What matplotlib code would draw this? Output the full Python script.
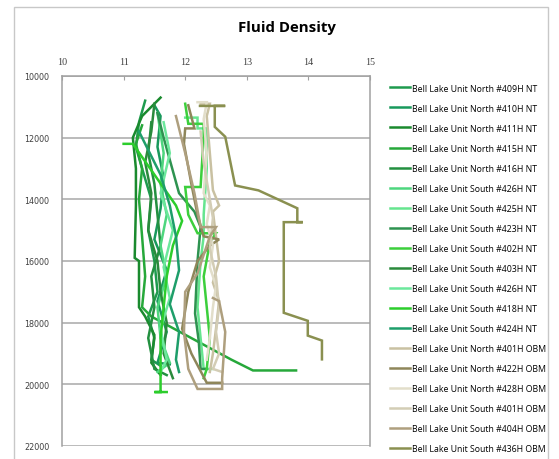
import matplotlib
matplotlib.use("Agg")
import matplotlib.pyplot as plt
from matplotlib.patches import Rectangle

# well names, colours and (density, depth) points
wells = [
    "Bell Lake Unit North #409H NT",
    "Bell Lake Unit North #410H NT",
    "Bell Lake Unit North #411H NT",
    "Bell Lake Unit North #415H NT",
    "Bell Lake Unit North #416H NT",
    "Bell Lake Unit South #426H NT",
    "Bell Lake Unit South #425H NT",
    "Bell Lake Unit South #423H NT",
    "Bell Lake Unit South #402H NT",
    "Bell Lake Unit South #403H NT",
    "Bell Lake Unit South #426H NT",
    "Bell Lake Unit South #418H NT",
    "Bell Lake Unit South #424H NT",
    "Bell Lake Unit North #401H OBM",
    "Bell Lake Unit North #422H OBM",
    "Bell Lake Unit North #428H OBM",
    "Bell Lake Unit South #401H OBM",
    "Bell Lake Unit South #404H OBM",
    "Bell Lake Unit South #436H OBM",
]

colors = [
    "#1e9b4e", "#18995c", "#1a8a2e", "#26a83a", "#239040",
    "#4ed67e", "#66e58f", "#2e9350", "#3ccf3c", "#2a8a3c",
    "#6ce89c", "#2ccd2c", "#1e9e6a",
    "#c9c1a2", "#8e865a", "#e2deca", "#d3cdb5", "#ae9f7e", "#8a9050",
]

density = [
    [11.35, 11.25, 11.2, 11.3, 11.45, 11.4, 11.5, 11.55, 11.4, 11.5, 11.45, 11.6],
    [11.5, 11.6, 11.55, 11.65, 11.6, 11.5, 11.7, 11.55, 11.7, 11.55, 11.75],
    [11.6, 11.3, 11.15, 11.2, 11.2, 11.18, 11.25, 11.25, 11.35, 11.5, 11.45, 11.6],
    [11.3, 11.2, 11.3, 11.25, 11.3, 11.35, 11.3, 11.45, 12.1, 12.75, 13.1, 13.8],
    [11.45, 11.4, 11.5, 11.55, 11.6, 11.45, 11.5, 11.4, 11.5, 11.7],
    [11.55, 11.65, 11.6, 11.7, 11.6, 11.7, 11.55, 11.6, 11.75, 11.55],
    [12.0, 12.2, 12.2, 12.35, 12.35, 12.3, 12.3, 12.25, 12.2, 12.25, 12.3, 12.45],
    [11.55, 11.65, 11.9, 12.15, 12.25, 12.2, 12.16, 12.22, 12.25, 12.35],
    [12.0, 12.05, 12.3, 12.3, 12.25, 12.0, 12.05, 12.2, 12.5, 12.4, 12.3, 12.35, 12.4, 12.35, 12.3],
    [11.5, 11.45, 11.35, 11.45, 11.4, 11.55, 11.6, 11.7, 11.65, 11.8],
    [11.65, 11.75, 11.6, 11.8, 11.65, 11.75, 11.6, 11.7, 11.6],
    [11.0, 11.15, 11.5, 11.85, 11.95, 11.8, 11.7, 11.65, 11.6, 11.6, 11.6, 11.5, 11.7],
    [11.25, 11.4, 11.6, 11.75, 11.85, 11.9, 11.75, 11.9, 11.85, 11.9],
    [12.25, 12.4, 12.35, 12.4, 12.45, 12.55, 12.45, 12.5, 12.55, 12.45, 12.55, 12.5, 12.45, 12.4],
    [12.05, 12.15, 12.0, 11.98, 12.1, 12.2, 12.3, 12.55, 12.4, 12.2, 12.05, 12.0, 11.95, 12.1, 12.35, 12.6],
    [12.2, 12.35, 12.3, 12.35, 12.3, 12.4, 12.35, 12.45, 12.4, 12.5, 12.45, 12.4, 12.35],
    [12.25, 12.3, 12.45, 12.4, 12.5, 12.55, 12.5, 12.55, 12.45, 12.6],
    [11.85, 12.0, 12.15, 12.25, 12.5, 12.4, 12.2, 12.0, 11.98, 12.05, 12.2, 12.6, 12.6, 12.65, 12.55, 12.45],
    [12.24, 12.65, 12.48, 12.48, 12.65, 12.81, 13.19, 13.82, 13.82, 13.91, 13.6, 13.6, 13.99, 13.99, 14.22, 14.22],
]

depth = [
    [10800, 11500, 12300, 13000, 14000, 15000, 16000, 17000, 17800, 18500, 19200, 19400],
    [10950, 11300, 12300, 13300, 14300, 15300, 16300, 17300, 18300, 19300, 19350],
    [10700, 11300, 12000, 13000, 14200, 15900, 16000, 17500, 17800, 18400, 19300, 19700],
    [11600, 12200, 13000, 14000, 15200, 16500, 17500, 17800, 18500, 19200, 19550, 19550],
    [11500, 12500, 13500, 14500, 15500, 16500, 17500, 18500, 19500, 19700],
    [11200, 12500, 13500, 14500, 15500, 16500, 17500, 18500, 19300, 19600],
    [11350, 11350, 11700, 11700, 13000, 14500, 15200, 16000, 17500, 18500, 19500, 19500],
    [11200, 12000, 13800, 14400, 14900, 16000, 17700, 18600, 19500, 19500],
    [10900, 11550, 11550, 11950, 13600, 13600, 14500, 15100, 15100, 15400, 16500, 17500, 18500, 19500, 19800],
    [10900, 11800, 12800, 13800, 15000, 16000, 17000, 18000, 19000, 19800],
    [11500, 12500, 13800, 15000, 16200, 17200, 18200, 19200, 19600],
    [12200, 12200, 13200, 14200, 14700, 15500, 16500, 17500, 18500, 19500, 20250, 20250, 20250],
    [11800, 12400, 13200, 14200, 15200, 16300, 17400, 18300, 19200, 19600],
    [10900, 10900, 11300, 12500, 13700, 14200, 14400, 15200, 16000, 16700, 17300, 18200, 19000, 19600],
    [10950, 11700, 11700, 12200, 13500, 14500, 15200, 15300, 15500, 16000, 17000, 17600, 18200, 19000, 19950, 19950],
    [10850, 10850, 11400, 12500, 13800, 14200, 14800, 15500, 16200, 16800, 17500, 18500, 19200],
    [11800, 12800, 14600, 15600, 16500, 17500, 18300, 19000, 19500, 19600],
    [11300, 12500, 13800, 14900, 14900, 15200, 16400, 17000, 18300, 19500, 20150, 20150, 19800, 18300, 17300, 17200],
    [10970, 10970, 10970, 11650, 11970, 13550, 13710, 14290, 14740, 14740, 14740, 17680, 17940, 18420, 18580, 19190],
]

x_ticks = [10, 11, 12, 13, 14, 15]
y_ticks = [10000, 12000, 14000, 16000, 18000, 20000, 22000]

fig = plt.figure(figsize=(5.59, 4.60), dpi=100)
ax = fig.add_axes([62 / 559, 1 - 447 / 460, 308 / 559, 370 / 460])

for name, c, xs, ys in zip(wells, colors, density, depth):
    ax.plot(xs, ys, color=c, lw=1.8, label=name, solid_joinstyle="miter")

ax.set_xlim(10, 15)
ax.set_ylim(22000, 10000)
ax.xaxis.tick_top()
ax.set_xticks(x_ticks)
ax.set_yticks(y_ticks)
ax.set_xticklabels([str(t) for t in x_ticks], family="Liberation Serif", fontsize=7.2, color="#404040")
ax.set_yticklabels([str(t) for t in y_ticks], family="DejaVu Sans", fontsize=5.8, color="#404040")
ax.tick_params(axis="x", direction="in", length=3, color="#a0a0a0", pad=7)
ax.tick_params(axis="y", length=0, pad=9)
ax.grid(axis="y", color="#a8a8a8", lw=1.1)
ax.set_axisbelow(True)
for side in ["top", "left", "right"]:
    ax.spines[side].set_color("#a0a0a0")
    ax.spines[side].set_linewidth(1.1)
ax.spines["bottom"].set_visible(False)

fig.text(287 / 559, 1 - 28 / 460, "Fluid Density", ha="center", va="center",
         family="Open Sans", fontweight="bold", fontsize=10.8)

fig.legend(loc="upper left", bbox_to_anchor=(386 / 559, 1 - 81 / 460), frameon=False,
           prop={"family": "Open Sans", "size": 6.3}, labelspacing=1.26,
           handlelength=2.3, handletextpad=0.3, borderaxespad=0)

# outer chart border
fig.patches.append(Rectangle((14 / 559, -0.02), 534 / 559, 1 - 8 / 460 + 0.02,
                             transform=fig.transFigure, fill=False, edgecolor="#c8c8c8", lw=1))

fig.savefig("out.png", dpi=100)
